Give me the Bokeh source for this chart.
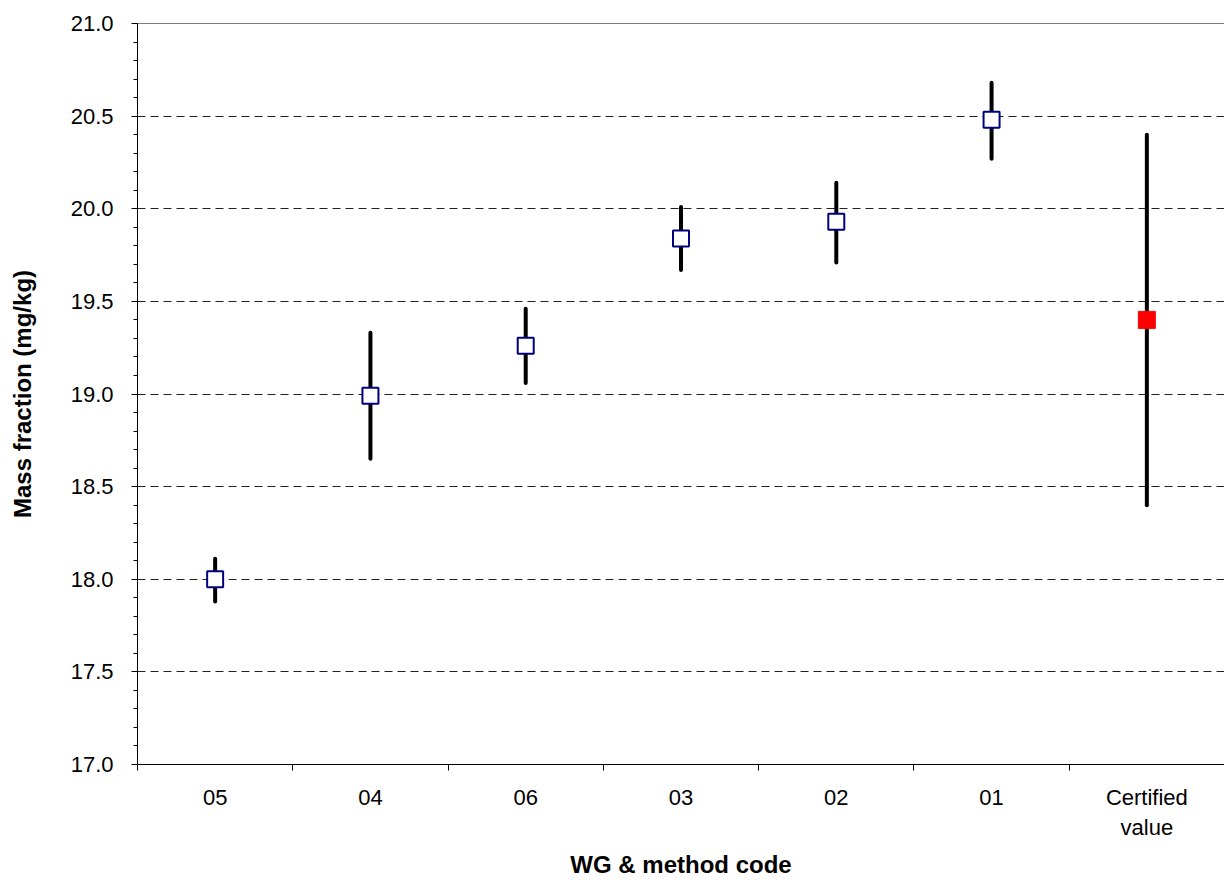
from bokeh.plotting import figure
from bokeh.models import (Range1d, FixedTicker, SingleIntervalTicker, NumeralTickFormatter,
                          ColumnDataSource, Span)
from bokeh.embed import file_html
from bokeh.resources import INLINE

# ---- data ----
categories = ["05", "04", "06", "03", "02", "01", "Certified\nvalue"]
means = [18.00, 18.99, 19.26, 19.84, 19.93, 20.48, 19.40]
lower = [17.88, 18.65, 19.06, 19.67, 19.71, 20.27, 18.40]
upper = [18.11, 19.33, 19.46, 20.01, 20.14, 20.68, 20.40]
is_certified = [False, False, False, False, False, False, True]
y_ticks = [17.0, 17.5, 18.0, 18.5, 19.0, 19.5, 20.0, 20.5, 21.0]

FONT = "Liberation Sans"

n = len(categories)
xpos = [i + 0.5 for i in range(n)]

p = figure(width=1224, height=880, output_backend="svg", toolbar_location=None,
           x_range=Range1d(0, n), y_range=Range1d(17.0, 21.0),
           min_border_left=137, min_border_right=0, min_border_top=23, min_border_bottom=115)
p.background_fill_color = "white"
p.border_fill_color = "white"
p.outline_line_color = None

# error bars
src = ColumnDataSource(dict(x=xpos, lo=lower, hi=upper, y=means))
p.segment(x0="x", y0="lo", x1="x", y1="hi", source=src, line_color="black",
          line_width=4, line_cap="round")

# markers
wg_idx = [i for i in range(n) if not is_certified[i]]
cv_idx = [i for i in range(n) if is_certified[i]]
p.scatter(x=[xpos[i] for i in wg_idx], y=[means[i] for i in wg_idx], marker="square",
          size=16, fill_color="white", line_color="#000080", line_width=2)
p.scatter(x=[xpos[i] for i in cv_idx], y=[means[i] for i in cv_idx], marker="square",
          size=17, fill_color="#ff0000", line_color="#ff0000", line_width=1)

# top border
p.add_layout(Span(location=21.0, dimension="width", line_color="black", line_width=1))

# x axis: labels at centres, ticks at boundaries (minor ticks)
xa = p.xaxis[0]
xa.ticker = FixedTicker(ticks=xpos, minor_ticks=list(range(n + 1)))
xa.major_label_overrides = {x: c for x, c in zip(xpos, categories)}
xa.major_tick_out = 0
xa.major_tick_in = 0
xa.minor_tick_out = 6
xa.minor_tick_in = 0
xa.minor_tick_line_color = "black"
xa.axis_line_color = "black"
xa.axis_line_width = 1
xa.major_label_text_font = FONT
xa.major_label_text_font_size = "22px"
xa.major_label_text_color = "black"
xa.major_label_standoff = 14
xa.axis_label = "WG & method code"
xa.axis_label_text_font = FONT
xa.axis_label_text_font_size = "24px"
xa.axis_label_text_font_style = "bold"
xa.axis_label_text_color = "black"
xa.axis_label_standoff = 8

# y axis
ya = p.yaxis[0]
ya.ticker = SingleIntervalTicker(interval=0.5, num_minor_ticks=5)
ya.formatter = NumeralTickFormatter(format="0.0")
ya.major_tick_out = 6
ya.major_tick_in = 0
ya.minor_tick_out = 4
ya.minor_tick_in = 0
ya.major_tick_line_color = "black"
ya.minor_tick_line_color = "black"
ya.axis_line_color = "black"
ya.axis_line_width = 1
ya.major_label_text_font = FONT
ya.major_label_text_font_size = "22px"
ya.major_label_text_color = "black"
ya.major_label_standoff = 18
ya.axis_label = "Mass fraction (mg/kg)"
ya.axis_label_text_font = FONT
ya.axis_label_text_font_size = "24px"
ya.axis_label_text_font_style = "bold"
ya.axis_label_text_color = "black"
ya.axis_label_standoff = 32

# grid
p.xgrid.grid_line_color = None
p.ygrid.ticker = FixedTicker(ticks=y_ticks[1:-1])
p.ygrid.grid_line_color = "#222222"
p.ygrid.grid_line_width = 1
p.ygrid.grid_line_dash = "8 5"

open("out.html", "w").write(file_html(p, INLINE))
